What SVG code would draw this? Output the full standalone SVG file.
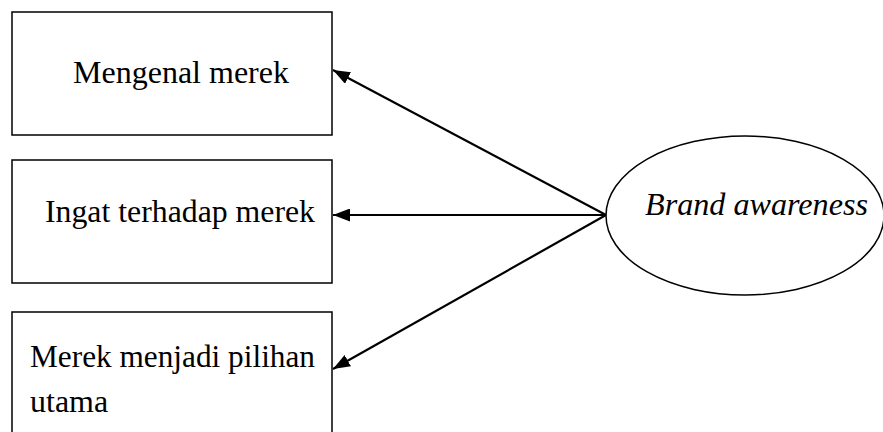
<svg xmlns="http://www.w3.org/2000/svg" width="883" height="432" viewBox="0 0 883 432">
  <style>
    .box { fill: #ffffff; stroke: #000000; stroke-width: 1.5; }
    .oval { fill: #ffffff; stroke: #000000; stroke-width: 1.5; }
    .label { font-family: "Liberation Serif", "Times New Roman", serif; font-size: 32px; fill: #000000; }
    .italic { font-style: italic; }
    .link { stroke: #000000; stroke-width: 2.2; fill: none; marker-end: url(#head); }
  </style>
  <defs>
    <marker id="head" viewBox="0 0 17 13" refX="17" refY="6.5" markerWidth="17" markerHeight="13" markerUnits="userSpaceOnUse" orient="auto">
      <path d="M0,0 L17,6.5 L0,13 Z" fill="#000000"/>
    </marker>
  </defs>
  <rect width="883" height="432" fill="#ffffff"/>

  <g id="node-mengenal">
    <rect class="box" x="12" y="12" width="320" height="123"/>
    <text class="label" x="73" y="83" textLength="216" lengthAdjust="spacingAndGlyphs">Mengenal merek</text>
  </g>

  <g id="node-ingat">
    <rect class="box" x="12" y="160" width="320" height="123"/>
    <text class="label" x="45" y="222" textLength="270" lengthAdjust="spacingAndGlyphs">Ingat terhadap merek</text>
  </g>

  <g id="node-pilihan">
    <rect class="box" x="12" y="312" width="320" height="140"/>
    <text class="label" x="30" y="367" textLength="285" lengthAdjust="spacingAndGlyphs">Merek menjadi pilihan</text>
    <text class="label" x="30" y="412">utama</text>
  </g>

  <g id="node-brand">
    <ellipse class="oval" cx="745" cy="215.5" rx="139" ry="79.5"/>
    <text class="label italic" x="645" y="215" textLength="223" lengthAdjust="spacingAndGlyphs">Brand awareness</text>
  </g>

  <g id="connectors">
    <line class="link" x1="606" y1="215" x2="333" y2="70"/>
    <line class="link" x1="606" y1="215" x2="333" y2="215"/>
    <line class="link" x1="606" y1="215" x2="333" y2="369"/>
  </g>
</svg>
